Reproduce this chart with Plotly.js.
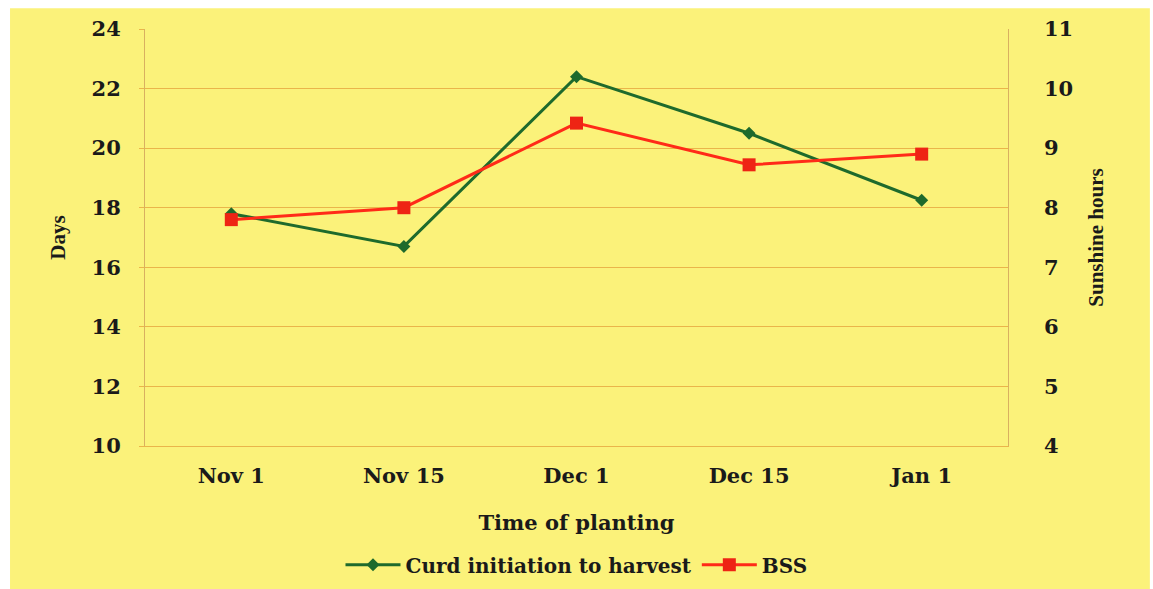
<!DOCTYPE html>
<html>
<head>
<meta charset="utf-8">
<script src="https://cdn.plot.ly/plotly-3.0.1.min.js"></script>
<style>
  html, body { margin: 0; padding: 0; background: #ffffff; }
  #plot { width: 1153px; height: 589px; }
</style>
</head>
<body>
<div id="plot"></div>
<script>
// Planting dates
let plantingDates = ["Nov 1", "Nov 15", "Dec 1", "Dec 15", "Jan 1"];

// Days from curd initiation to harvest (left axis)
let curdDays = [17.8, 16.7, 22.4, 20.5, 18.25];

// Bright sunshine hours (right axis)
let bssHours = [7.8, 8.0, 9.42, 8.72, 8.9];

let wide = "DejaVu Serif, serif";
let narrow = "Liberation Serif, Times New Roman, serif";
let ink = "#1a1a1a";
let yellow = "#fbf27a";
let gridColor = "#eab54a";

let traceCurd = {
  x: plantingDates,
  y: curdDays,
  type: "scatter",
  mode: "lines+markers",
  name: "Curd initiation to harvest",
  line: { color: "#1e6a2c", width: 3 },
  marker: { symbol: "diamond", size: 10, color: "#1e6a2c" }
};

let traceBss = {
  x: plantingDates,
  y: bssHours,
  type: "scatter",
  mode: "lines+markers",
  name: "BSS",
  yaxis: "y2",
  line: { color: "#ff2a18", width: 3 },
  marker: { symbol: "square", size: 13, color: "#ee2414" }
};

let layout = {
  width: 1153,
  height: 589,
  margin: { l: 145, r: 110, t: 29, b: 143, autoexpand: false },
  paper_bgcolor: "#ffffff",
  plot_bgcolor: "rgba(0,0,0,0)",
  font: { family: wide, color: ink },
  showlegend: true,
  legend: {
    orientation: "h",
    x: 0.4805, xanchor: "center",
    y: -0.285, yanchor: "middle",
    itemwidth: 55,
    font: { family: wide, size: 20, color: ink, weight: "bold" },
    bgcolor: "rgba(0,0,0,0)"
  },
  xaxis: {
    type: "category",
    domain: [0, 0.961],
    range: [-0.5, 4.5],
    showgrid: false,
    zeroline: false,
    showline: true,
    linecolor: gridColor,
    linewidth: 1,
    ticks: "",
    ticklabelstandoff: 11,
    tickfont: { family: wide, size: 21, color: ink, weight: "bold" },
    title: {
      text: "Time of planting",
      font: { family: wide, size: 21, color: ink, weight: "bold" },
      standoff: 28
    }
  },
  yaxis: {
    range: [10, 24],
    dtick: 2,
    showgrid: true,
    gridcolor: gridColor,
    gridwidth: 1,
    zeroline: false,
    showline: true,
    mirror: true,
    linecolor: "#d9b060",
    linewidth: 1,
    ticks: "outside",
    ticklen: 5,
    tickcolor: gridColor,
    ticklabelstandoff: 14,
    tickfont: { family: wide, size: 21, color: ink, weight: "bold" },
    title: {
      text: "Days",
      font: { family: narrow, size: 21, color: ink, weight: "bold" },
      standoff: 20
    }
  },
  yaxis2: {
    range: [4, 11],
    dtick: 1,
    overlaying: "y",
    side: "right",
    anchor: "free",
    position: 1,
    showgrid: false,
    zeroline: false,
    showline: false,
    ticks: "",
    tickfont: { family: wide, size: 21, color: ink, weight: "bold" },
    title: {
      text: "Sunshine hours",
      font: { family: narrow, size: 21, color: ink, weight: "bold" },
      standoff: 16
    }
  },
  shapes: [
    {
      type: "rect", xref: "paper", yref: "paper", layer: "below",
      x0: -0.1503, x1: 1.119, y0: -0.4, y1: 1.05,
      fillcolor: yellow, line: { width: 0 }
    }
  ]
};

Plotly.newPlot("plot", [traceCurd, traceBss], layout, { displayModeBar: false });
</script>
</body>
</html>
